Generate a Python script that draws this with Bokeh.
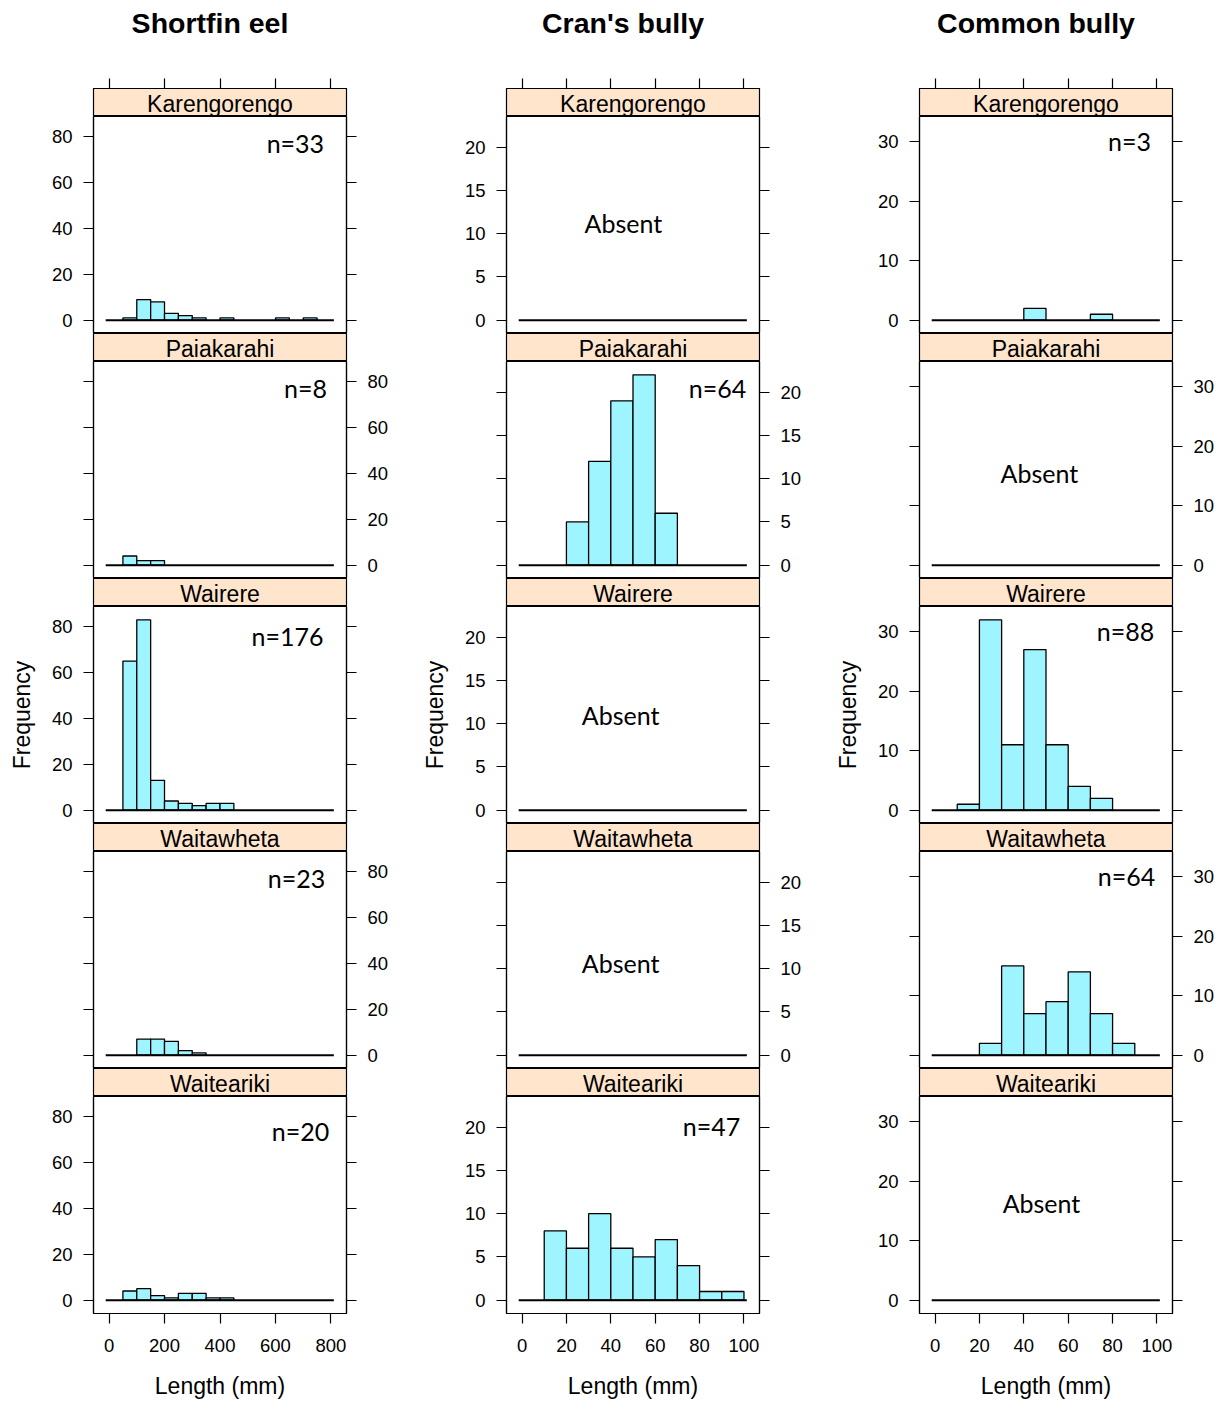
from bokeh.plotting import figure
from bokeh.layouts import row, column
from bokeh.models import Range1d, FixedTicker, LinearAxis, ColumnDataSource
from bokeh.core.properties import value
from bokeh.embed import file_html
from bokeh.resources import INLINE

# ---------------- data ----------------
species_titles = ["Shortfin eel", "Cran's bully", "Common bully"]
sites = ["Karengorengo", "Paiakarahi", "Wairere", "Waitawheta", "Waiteariki"]

# Shortfin eel: 50 mm bins from 0 to 800 mm
eel_bin_edges = [0, 50, 100, 150, 200, 250, 300, 350, 400, 450, 500, 550, 600, 650, 700, 750, 800]
eel_karengorengo = [0, 1, 9, 8, 3, 2, 1, 0, 1, 0, 0, 0, 1, 0, 1, 0]
eel_paiakarahi = [0, 4, 2, 2, 0, 0, 0, 0, 0, 0, 0, 0, 0, 0, 0, 0]
eel_wairere = [0, 65, 83, 13, 4, 3, 2, 3, 3, 0, 0, 0, 0, 0, 0, 0]
eel_waitawheta = [0, 0, 7, 7, 6, 2, 1, 0, 0, 0, 0, 0, 0, 0, 0, 0]
eel_waiteariki = [0, 4, 5, 2, 1, 3, 3, 1, 1, 0, 0, 0, 0, 0, 0, 0]
eel_labels = ["n=33", "n=8", "n=176", "n=23", "n=20"]
eel_x_ticks = [0, 200, 400, 600, 800]
eel_y_ticks = [0, 20, 40, 60, 80]

# Bullies: 10 mm bins from 0 to 100 mm
bully_bin_edges = [0, 10, 20, 30, 40, 50, 60, 70, 80, 90, 100]
cran_karengorengo = [0, 0, 0, 0, 0, 0, 0, 0, 0, 0]
cran_paiakarahi = [0, 0, 5, 12, 19, 22, 6, 0, 0, 0]
cran_wairere = [0, 0, 0, 0, 0, 0, 0, 0, 0, 0]
cran_waitawheta = [0, 0, 0, 0, 0, 0, 0, 0, 0, 0]
cran_waiteariki = [0, 8, 6, 10, 6, 5, 7, 4, 1, 1]
cran_labels = ["Absent", "n=64", "Absent", "Absent", "n=47"]
cran_y_ticks = [0, 5, 10, 15, 20]

common_karengorengo = [0, 0, 0, 0, 2, 0, 0, 1, 0, 0]
common_paiakarahi = [0, 0, 0, 0, 0, 0, 0, 0, 0, 0]
common_wairere = [0, 1, 32, 11, 27, 11, 4, 2, 0, 0]
common_waitawheta = [0, 0, 2, 15, 7, 9, 14, 7, 2, 0]
common_waiteariki = [0, 0, 0, 0, 0, 0, 0, 0, 0, 0]
common_labels = ["n=3", "Absent", "n=88", "n=64", "Absent"]
common_y_ticks = [0, 10, 20, 30]

bully_x_ticks = [0, 20, 40, 60, 80, 100]

# ---------------- layout / style ----------------
eel_label_pos = [(0.798, 0.876), (0.838, 0.880), (0.767, 0.866), (0.802, 0.876), (0.818, 0.843)]
cran_label_pos = [(0.462, 0.507), (0.834, 0.880), (0.451, 0.498), (0.451, 0.488), (0.810, 0.866)]
common_label_pos = [(0.830, 0.889), (0.474, 0.488), (0.814, 0.889), (0.818, 0.889), (0.482, 0.507)]

FW, FH, SH = 253, 217, 28
LEFT = 93
RIGHTS = [67, 67, 54]
TITLE_H = 60          # height of the title band
TITLE_CY = 22         # title centre, px from the top
TITLE_DX = -10        # title shift from panel centre, px
AXIS_TOP = 28         # space for the top ticks
BOTTOM = 90
BAR_FILL = "#9EF5FF"
STRIP_FILL = "#FFE5CC"
SANS = "Liberation Sans"
TICK_SIZE = "18.5px"
LAB_SIZE = "23px"

columns_spec = [
    (eel_bin_edges, [eel_karengorengo, eel_paiakarahi, eel_wairere, eel_waitawheta, eel_waiteariki],
     eel_labels, eel_label_pos, eel_x_ticks, eel_y_ticks),
    (bully_bin_edges, [cran_karengorengo, cran_paiakarahi, cran_wairere, cran_waitawheta, cran_waiteariki],
     cran_labels, cran_label_pos, bully_x_ticks, cran_y_ticks),
    (bully_bin_edges, [common_karengorengo, common_paiakarahi, common_wairere, common_waitawheta, common_waiteariki],
     common_labels, common_label_pos, bully_x_ticks, common_y_ticks),
]


def style_axis(ax, ticks, show_labels):
    ax.ticker = FixedTicker(ticks=ticks)
    ax.major_tick_in = 0
    ax.major_tick_out = 10
    ax.major_tick_line_color = "black"
    ax.major_tick_line_width = 1.2
    ax.minor_tick_line_color = None
    ax.axis_line_color = "black"
    ax.axis_line_width = 1.2
    ax.major_label_text_font = SANS
    ax.major_label_text_font_size = TICK_SIZE
    ax.major_label_text_color = "black"
    ax.major_label_standoff = 11
    if not show_labels:
        ax.major_label_overrides = {t: "" for t in ticks}
    ax.axis_label_text_font = SANS
    ax.axis_label_text_font_size = LAB_SIZE
    ax.axis_label_text_font_style = "normal"
    ax.axis_label_text_color = "black"
    return ax


def blank_fig(**kw):
    f = figure(x_axis_location=None, y_axis_location=None, toolbar_location=None,
               output_backend="svg", title_location=None, **kw)
    f.xgrid.grid_line_color = None
    f.ygrid.grid_line_color = None
    return f


col_layouts = []
for ci, (edges, counts_list, labels, label_pos, xticks, yticks) in enumerate(columns_spec):
    right_b = RIGHTS[ci]
    lo, hi = edges[0], edges[-1]
    span = hi - lo
    x_range = Range1d(lo - 0.07 * span, hi + 0.07 * span)
    ymax = max(max(c) for c in counts_list)
    y_range = Range1d(-0.07 * ymax, 1.07 * ymax)
    children = []

    # ---- column title band ----
    t = blank_fig(frame_width=FW, frame_height=TITLE_H, x_range=Range1d(0, FW),
                  y_range=Range1d(0, TITLE_H), min_border_left=LEFT, min_border_right=right_b,
                  min_border_top=0, min_border_bottom=0)
    t.outline_line_color = None
    t.text(x=[FW / 2 + TITLE_DX], y=[TITLE_H - TITLE_CY], text=[species_titles[ci]],
           text_font=value(SANS), text_font_size="28.5px", text_font_style="bold",
           text_align="center", text_baseline="middle", text_color="black")
    children.append(t)

    for si, site in enumerate(sites):
        # ---- strip ----
        top_b = AXIS_TOP if si == 0 else 0
        s = blank_fig(frame_width=FW, frame_height=SH, x_range=x_range, y_range=Range1d(0, 1),
                      min_border_left=LEFT, min_border_right=right_b,
                      min_border_top=top_b, min_border_bottom=0)
        s.background_fill_color = STRIP_FILL
        s.outline_line_color = "black"
        s.outline_line_width = 1.2
        s.text(x=[(lo + hi) / 2], y=[0.45], text=[site], text_font=value(SANS),
               text_font_size=LAB_SIZE, text_align="center", text_baseline="middle",
               text_color="black")
        if si == 0:
            tax = style_axis(LinearAxis(), xticks, False)
            tax.major_label_text_font_size = "0px"
            tax.major_label_standoff = 0
            s.add_layout(tax, "above")
        children.append(s)

        # ---- panel ----
        last = si == len(sites) - 1
        p = blank_fig(frame_width=FW, frame_height=FH, x_range=x_range, y_range=y_range,
                      min_border_left=LEFT, min_border_right=right_b,
                      min_border_top=0, min_border_bottom=BOTTOM if last else 0)
        p.outline_line_color = "black"
        p.outline_line_width = 1.2
        p.background_fill_color = "white"

        counts = counts_list[si]
        src = ColumnDataSource(dict(
            left=[edges[i] for i, c in enumerate(counts) if c > 0],
            right=[edges[i + 1] for i, c in enumerate(counts) if c > 0],
            top=[c for c in counts if c > 0],
        ))
        p.quad(left="left", right="right", bottom=0, top="top", source=src,
               fill_color=BAR_FILL, line_color="black", line_width=1.3)
        p.segment(x0=[lo - 0.015 * span], x1=[hi + 0.013 * span], y0=[0], y1=[0],
                  line_color="black", line_width=2)

        fx, fy = label_pos[si]
        p.text(x=[x_range.start + fx * (x_range.end - x_range.start)],
               y=[y_range.start + fy * (y_range.end - y_range.start)],
               text=[labels[si]], text_font=value("Lato"), text_font_size="25px",
               text_align="center", text_baseline="middle", text_color="black")

        left_labels = (si % 2 == 0)
        lax = style_axis(LinearAxis(), yticks, left_labels)
        rax = style_axis(LinearAxis(), yticks, not left_labels)
        if si == 2:
            lax.axis_label = "Frequency"
            lax.axis_label_standoff = 14
        p.add_layout(lax, "left")
        p.add_layout(rax, "right")
        if last:
            bax = style_axis(LinearAxis(), xticks, True)
            bax.major_label_standoff = 15
            bax.axis_label = "Length (mm)"
            bax.axis_label_standoff = 18
            p.add_layout(bax, "below")
        children.append(p)
    col_layouts.append(column(children, spacing=0))

layout = row(col_layouts, spacing=0)

with open("out.html", "w") as f:
    f.write(file_html(layout, INLINE, title="Fish length histograms"))
